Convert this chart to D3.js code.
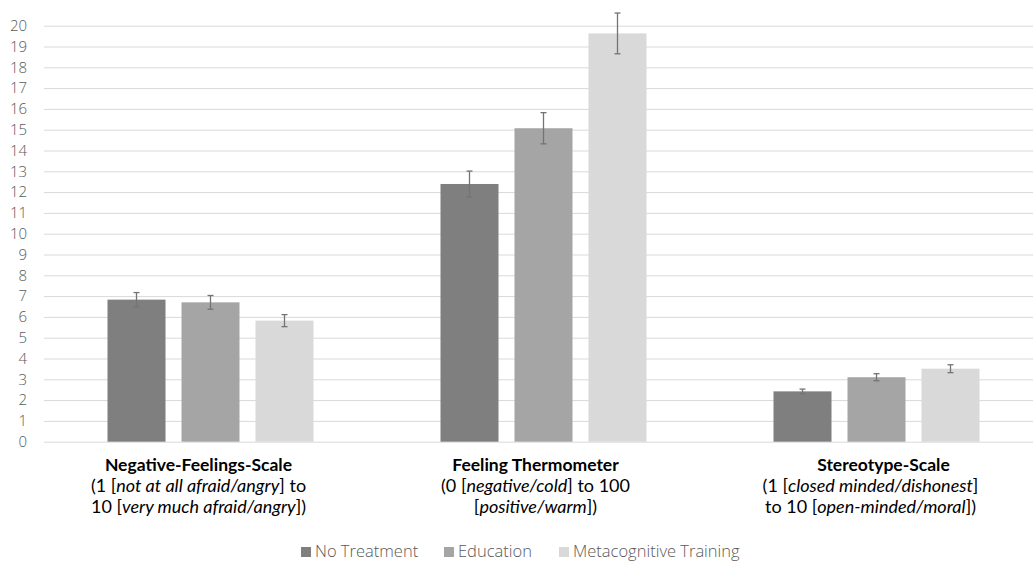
<!DOCTYPE html>
<html lang="en">
<head>
    <meta charset="UTF-8">
    <title>Grouped Bar Chart with Error Bars</title>
    <script src="https://cdn.jsdelivr.net/npm/d3@7"></script>
    <style>
        body { margin: 0; background: #fff; }
        .tick text { font-family: "Open Sans", sans-serif; font-weight: 300; fill: #595959; }
        .cat-label { font-family: "Lato", sans-serif; fill: #000; }
        .legend text { font-family: "Open Sans", sans-serif; font-weight: 300; fill: #595959; }
    </style>
</head>
<body>
    <script>
        // chart data
        var categories = ["Negative-Feelings-Scale", "Feeling Thermometer", "Stereotype-Scale"];
        var series = ["No Treatment", "Education", "Metacognitive Training"];
        var noTreatment = [6.83, 12.39, 2.42];
        var education = [6.70, 15.07, 3.10];
        var metacognitive = [5.82, 19.63, 3.51];
        var errNoTreatment = [0.34, 0.62, 0.11];
        var errEducation = [0.33, 0.75, 0.17];
        var errMetacognitive = [0.29, 0.98, 0.19];
        // sub lines under each category; text between * is italic
        var subLines = [
            ["(1 [*not at all afraid/angry*] to", "10 [*very much afraid/angry*])"],
            ["(0 [*negative/cold*] to 100", "[*positive/warm*])"],
            ["(1 [*closed minded/dishonest*]", "to 10 [*open-minded/moral*])"]
        ];
        var yTicks = d3.range(0, 21);
        var colors = ["#7f7f7f", "#a5a5a5", "#d9d9d9"];

        var values = [noTreatment, education, metacognitive];
        var errors = [errNoTreatment, errEducation, errMetacognitive];

        var width = 1033, height = 562;
        var margin = { top: 25.7, left: 44, bottom: 120.3 };

        // label block shifts relative to the group centre (layout only)
        var labelShift = [-12, -8, -6];
        var titleShift = [0, 0, 13];

        var svg = d3.select("body").append("svg")
            .attr("width", width)
            .attr("height", height);

        var x0 = d3.scaleBand()
            .domain(categories)
            .range([margin.left, margin.left + 999]);

        // bars are 58px wide with 16px gaps, centred in each group
        var groupInner = 206;
        var x1 = d3.scaleBand()
            .domain(series)
            .range([(x0.bandwidth() - groupInner) / 2, (x0.bandwidth() + groupInner) / 2])
            .paddingInner(16 / 74)
            .paddingOuter(0);

        var y = d3.scaleLinear()
            .domain([0, 20])
            .range([height - margin.bottom, margin.top]);

        // gridlines + tick labels
        var yAxis = svg.append("g")
            .attr("transform", "translate(" + margin.left + ",0)")
            .call(d3.axisLeft(y).tickValues(yTicks).tickSize(-(width - margin.left)).tickPadding(17));
        yAxis.select(".domain").remove();
        yAxis.selectAll(".tick line").attr("stroke", "#d9d9d9").attr("stroke-width", 1);
        yAxis.selectAll(".tick text").style("font-size", "15px");

        // bars
        var groups = svg.selectAll(".group")
            .data(categories)
            .enter().append("g")
            .attr("class", "group")
            .attr("transform", d => "translate(" + x0(d) + ",0)");

        var rows = (d, i) => series.map((s, j) => ({ s: s, j: j, v: values[j][i], e: errors[j][i] }));

        groups.selectAll("rect")
            .data(rows)
            .enter().append("rect")
            .attr("x", d => x1(d.s))
            .attr("y", d => y(d.v))
            .attr("width", x1.bandwidth())
            .attr("height", d => y(0) - y(d.v))
            .attr("fill", d => colors[d.j]);

        // error bars
        var cxOf = d => x1(d.s) + x1.bandwidth() / 2;
        var err = groups.selectAll(".err")
            .data(rows)
            .enter().append("g")
            .attr("class", "err")
            .attr("stroke", "#747474")
            .attr("stroke-width", 1.3);
        err.append("line")
            .attr("x1", cxOf)
            .attr("x2", cxOf)
            .attr("y1", d => y(d.v + d.e))
            .attr("y2", d => y(d.v - d.e));
        err.append("line")
            .attr("x1", d => cxOf(d) - 3)
            .attr("x2", d => cxOf(d) + 3)
            .attr("y1", d => y(d.v + d.e))
            .attr("y2", d => y(d.v + d.e));
        err.append("line")
            .attr("x1", d => cxOf(d) - 3)
            .attr("x2", d => cxOf(d) + 3)
            .attr("y1", d => y(d.v - d.e))
            .attr("y2", d => y(d.v - d.e));

        // category labels
        categories.forEach(function (c, i) {
            var cx = x0(c) + x0.bandwidth() / 2 + labelShift[i];
            svg.append("text")
                .attr("class", "cat-label")
                .attr("x", cx + titleShift[i])
                .attr("y", 471)
                .attr("text-anchor", "middle")
                .style("font-size", "17.5px")
                .style("font-weight", "bold")
                .text(c);
            subLines[i].forEach(function (line, k) {
                var lt = svg.append("text")
                    .attr("class", "cat-label")
                    .attr("x", cx)
                    .attr("y", 492 + k * 21)
                    .attr("text-anchor", "middle")
                    .style("font-size", "18px");
                line.split("*").forEach(function (part, p) {
                    if (!part) return;
                    lt.append("tspan")
                        .style("font-style", p % 2 ? "italic" : "normal")
                        .text(part);
                });
            });
        });

        // legend
        var legend = svg.append("g").attr("class", "legend");
        var legendX = [301, 444, 559];
        series.forEach(function (s, i) {
            legend.append("rect")
                .attr("x", legendX[i])
                .attr("y", 547)
                .attr("width", 10)
                .attr("height", 10)
                .attr("fill", colors[i]);
            legend.append("text")
                .attr("x", legendX[i] + 14)
                .attr("y", 557)
                .style("font-size", "16.5px")
                .text(s);
        });
    </script>
</body>
</html>
